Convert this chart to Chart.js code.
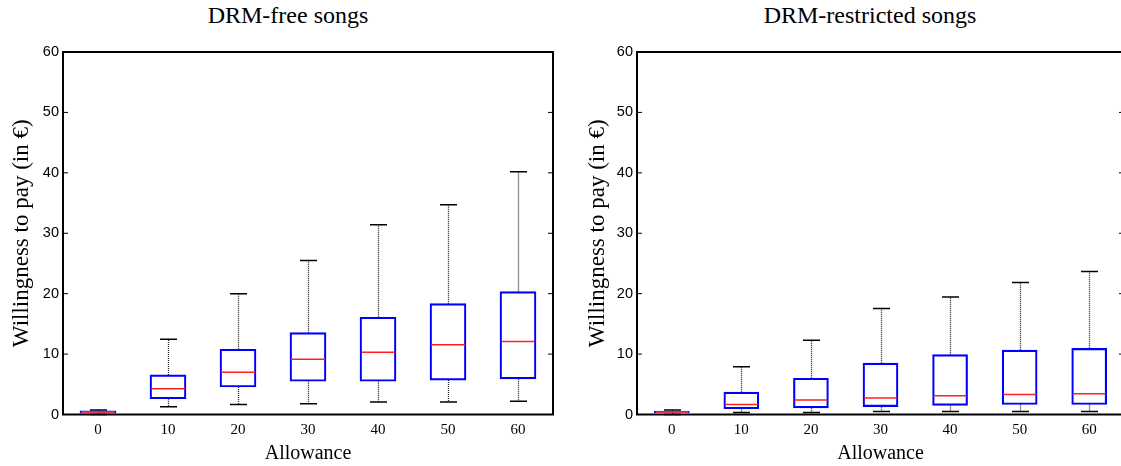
<!DOCTYPE html>
<html>
<head>
<meta charset="utf-8">
<script src="https://cdn.jsdelivr.net/npm/chart.js@4/dist/chart.umd.min.js"></script>
<style>
    body { margin: 0; width: 1121px; height: 466px; overflow: hidden; background: #fff; position: relative; }
    .title { position: absolute; top: 2px; font-family: "Liberation Serif", "Times New Roman", serif; font-size: 24px; color: #000; white-space: nowrap; transform: translateX(-50%); }
    canvas { position: absolute; top: 0; }
</style>
</head>
<body>
<div class="title" style="left:288px">DRM-free songs</div>
<div class="title" style="left:870px">DRM-restricted songs</div>
<canvas id="free" width="560" height="466" style="left:0"></canvas>
<canvas id="drm" width="570" height="466" style="left:560px"></canvas>
<script>
const allowance = ['0', '10', '20', '30', '40', '50', '60'];
const wtpTicks = [0, 10, 20, 30, 40, 50, 60];

// DRM-free songs
const lowFree  = [0.0, 1.3, 1.65, 1.8, 2.05, 2.05, 2.2];
const q1Free   = [0.2, 2.6, 4.55, 5.5, 5.5, 5.7, 5.9];
const medFree  = [0.4, 4.25, 7.0, 9.15, 10.3, 11.55, 12.1];
const q3Free   = [0.6, 6.55, 10.8, 13.55, 16.1, 18.35, 20.35];
const highFree = [0.75, 12.45, 20.0, 25.5, 31.4, 34.7, 40.2];

// DRM-restricted songs
const lowDrm  = [0.0, 0.35, 0.35, 0.5, 0.5, 0.5, 0.5];
const q1Drm   = [0.25, 0.95, 1.1, 1.3, 1.5, 1.65, 1.65];
const medDrm  = [0.4, 1.65, 2.4, 2.75, 3.1, 3.3, 3.45];
const q3Drm   = [0.55, 3.7, 6.0, 8.5, 9.9, 10.65, 10.95];
const highDrm = [0.75, 7.9, 12.3, 17.55, 19.45, 21.85, 23.65];

const serif = '"Liberation Serif", "Times New Roman", serif';
const sans = '"Liberation Sans", Arial, sans-serif';

// whiskers, caps and medians drawn from the chart's own scales
const boxPlugin = {
    id: 'boxParts',
    beforeDatasetsDraw(chart, args, opts) {
        const ctx = chart.ctx;
        const x = chart.scales.x;
        const y = chart.scales.y;
        ctx.save();
        for (let i = 0; i < opts.low.length; i++) {
            const cx = Math.round(x.getPixelForValue(i)) + 0.5;
            // dotted whisker lines
            ctx.strokeStyle = '#222';
            ctx.lineWidth = 1.3;
            ctx.setLineDash([1, 1]);
            ctx.beginPath();
            ctx.moveTo(cx, y.getPixelForValue(opts.q3[i]));
            ctx.lineTo(cx, y.getPixelForValue(opts.high[i]));
            ctx.moveTo(cx, y.getPixelForValue(opts.q1[i]));
            ctx.lineTo(cx, y.getPixelForValue(opts.low[i]));
            ctx.stroke();
            // caps
            ctx.setLineDash([]);
            ctx.strokeStyle = '#000';
            ctx.lineWidth = 1.5;
            ctx.beginPath();
            [opts.high[i], opts.low[i]].forEach(v => {
                const py = y.getPixelForValue(v);
                ctx.moveTo(cx - 8.5, py);
                ctx.lineTo(cx + 8.5, py);
            });
            ctx.stroke();
        }
        ctx.restore();
    },
    afterDatasetsDraw(chart, args, opts) {
        const ctx = chart.ctx;
        const x = chart.scales.x;
        const y = chart.scales.y;
        const half = opts.boxWidth / 2 - 1;
        ctx.save();
        ctx.strokeStyle = '#ff2020';
        ctx.lineWidth = 1.5;
        ctx.beginPath();
        for (let i = 0; i < opts.med.length; i++) {
            const cx = x.getPixelForValue(i);
            const py = y.getPixelForValue(opts.med[i]);
            ctx.moveTo(cx - half, py);
            ctx.lineTo(cx + half, py);
        }
        ctx.stroke();
        ctx.restore();
    },
    afterDraw(chart) {
        const ctx = chart.ctx;
        const a = chart.chartArea;
        const y = chart.scales.y;
        ctx.save();
        ctx.strokeStyle = '#000';
        ctx.lineWidth = 1;
        ctx.beginPath();
        wtpTicks.forEach(v => {
            const py = y.getPixelForValue(v);
            ctx.moveTo(a.left, py);
            ctx.lineTo(a.left + 5, py);
            ctx.moveTo(a.right - 5, py);
            ctx.lineTo(a.right, py);
        });
        ctx.stroke();
        ctx.lineWidth = 2;
        ctx.strokeRect(a.left, a.top, a.right - a.left, a.bottom - a.top);
        ctx.restore();
    }
};

function makeBoxChart(id, low, q1, med, q3, high, pad, yWidth, boxWidth) {
    const ctx = document.getElementById(id).getContext('2d');
    return new Chart(ctx, {
        type: 'bar',
        data: {
            labels: allowance,
            datasets: [{
                data: q1.map((v, i) => [v, q3[i]]),
                backgroundColor: 'rgba(255,255,255,0)',
                borderColor: '#0000ff',
                borderWidth: 1.5,
                borderSkipped: false,
                barThickness: boxWidth
            }]
        },
        options: {
            responsive: false,
            animation: false,
            layout: { padding: pad },
            plugins: {
                legend: { display: false },
                tooltip: { enabled: false },
                boxParts: { low: low, q1: q1, med: med, q3: q3, high: high, boxWidth: boxWidth }
            },
            scales: {
                x: {
                    grid: { display: false, drawTicks: false },
                    border: { display: false },
                    ticks: { color: '#000', padding: 7, font: { family: serif, size: 15 } },
                    title: { display: true, text: 'Allowance', color: '#000', padding: 0, font: { family: serif, size: 20 } },
                    afterFit: s => { s.height = 51.5; }
                },
                y: {
                    min: 0,
                    max: 60,
                    grid: { display: false, drawTicks: false },
                    border: { display: false },
                    ticks: { stepSize: 10, color: '#000', padding: 4, font: { family: sans, size: 14.5 } },
                    title: { display: true, text: 'Willingness to pay (in €)', color: '#000', padding: { top: 8 }, font: { family: serif, size: 23 } },
                    afterFit: s => { s.width = yWidth; }
                }
            }
        },
        plugins: [boxPlugin]
    });
}

makeBoxChart('free', lowFree, q1Free, medFree, q3Free, highFree, { left: 0, right: 7, top: 52, bottom: 0 }, 63, 36);
makeBoxChart('drm', lowDrm, q1Drm, medDrm, q3Drm, highDrm, { left: 16, right: 6, top: 52, bottom: 0 }, 61, 35);
</script>
</body>
</html>
